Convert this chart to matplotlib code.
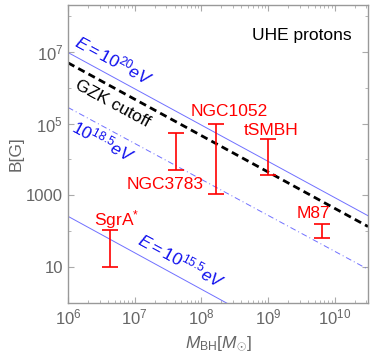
import numpy as np
import matplotlib
matplotlib.use("Agg")
import matplotlib.pyplot as plt
from matplotlib.ticker import LogLocator, FixedLocator, FixedFormatter, NullFormatter

plt.rcParams['font.family'] = ['Liberation Sans', 'DejaVu Sans']
plt.rcParams['mathtext.fontset'] = 'custom'
plt.rcParams['mathtext.rm'] = 'Liberation Sans'
plt.rcParams['mathtext.it'] = 'Liberation Sans:italic'
plt.rcParams['mathtext.bf'] = 'Liberation Sans:bold'

# Hillas lines, read at the left and right edge of the frame
line_M = [1e6, 10**10.5]
B_E20 = [9.5e6, 2.7e2]
B_GZK = [4.9e6, 1.35e2]
B_E185 = [2.8e5, 8.7]
B_E155 = [2.6e2, 7e-3]

# sources: mass, B range
src_names = ['SgrA$^{*}$', 'NGC3783', 'NGC1052', 'tSMBH', 'M87']
src_M = [4.2e6, 4.2e7, 1.66e8, 1.0e9, 6.5e9]
src_Blo = [10, 5.0e3, 1.1e3, 3.6e3, 65]
src_Bhi = [105, 5.3e4, 9.8e4, 3.6e4, 160]
# label positions (M, B)
lab_M = [5.3e6, 2.9e7, 2.6e8, 1.1e9, 4.8e9]
lab_B = [215, 2.0e3, 2.1e5, 6.2e4, 316]

gray = '#666666'
tickgray = '#aaaaaa'
lblue = '#7070ff'
dblue = '#1010ee'

fig = plt.figure(figsize=(3.74, 3.55), dpi=100)
ax = fig.add_axes([68/374, 1-303/355, 300/374, 298/355])

ax.plot(line_M, B_E20, color=lblue, lw=0.7)
ax.plot(line_M, B_E185, color=lblue, lw=0.7, ls=(0, (6, 3, 1, 3)))
ax.plot(line_M, B_E155, color=lblue, lw=0.7)
ax.plot(line_M, B_GZK, color='black', lw=2, ls=(0, (2.6, 1.6)))

for m, lo, hi in zip(src_M, src_Blo, src_Bhi):
    mid = np.sqrt(lo*hi)
    ax.errorbar([m], [mid], yerr=[[mid-lo], [hi-mid]],
                fmt='none', ecolor='red', elinewidth=1.2, capsize=6, capthick=1.2)
for name, m, b in zip(src_names, lab_M, lab_B):
    ax.text(m, b, name, color='red', fontsize=12.5, ha='center', va='center')

ax.set_xscale('log')
ax.set_yscale('log')
ax.set_xlim(1e6, 10**10.5)
ax.set_ylim(1, 2e8)

ang = -28.4
ax.text(4.9e6, 6.0e6, r'$\mathit{E{=}10^{20}eV}$', color=dblue, fontsize=12.5,
        rotation=ang, ha='center', va='center', rotation_mode='anchor')
ax.text(4.6e6, 3.6e5, 'GZK cutoff', color='black', fontsize=12.5,
        rotation=ang, ha='center', va='center', rotation_mode='anchor')
ax.text(3.4e6, 3.2e4, r'$\mathit{10^{18.5}eV}$', color=dblue, fontsize=12.5,
        rotation=ang, ha='center', va='center', rotation_mode='anchor')
ax.text(5.0e7, 15.5, r'$\mathit{E{=}10^{15.5}eV}$', color=dblue, fontsize=12.5,
        rotation=ang, ha='center', va='center', rotation_mode='anchor')
ax.text(0.947, 0.899, 'UHE protons', transform=ax.transAxes, fontsize=12.5,
        ha='right', va='center', color='black')

ax.xaxis.set_major_locator(FixedLocator([1e6, 1e7, 1e8, 1e9, 1e10]))
ax.xaxis.set_major_formatter(FixedFormatter([r'$10^{6}$', r'$10^{7}$', r'$10^{8}$',
                                             r'$10^{9}$', r'$10^{10}$']))
ax.xaxis.set_minor_locator(LogLocator(base=10, subs=np.arange(2, 10), numticks=20))
ax.xaxis.set_minor_formatter(NullFormatter())
ax.yaxis.set_major_locator(FixedLocator([10, 1e3, 1e5, 1e7]))
ax.yaxis.set_major_formatter(FixedFormatter(['10', '1000', r'$10^{5}$', r'$10^{7}$']))
ax.yaxis.set_minor_locator(FixedLocator([1, 100, 1e4, 1e6, 1e8]))
ax.yaxis.set_minor_formatter(NullFormatter())

ax.tick_params(which='both', direction='in', top=True, right=True, color=tickgray,
               labelsize=12, labelcolor=gray)
ax.tick_params(which='major', length=4, width=0.8)
ax.tick_params(which='minor', length=2.2, width=0.6)
for s in ax.spines.values():
    s.set_color('#999999')
    s.set_linewidth(1.0)

ax.set_xlabel(r'$M_{\mathrm{BH}}[M_{\odot}]$', color=gray, fontsize=12.5, labelpad=5)
ax.set_ylabel('B[G]', color=gray, fontsize=12.5, labelpad=2)

fig.savefig('out.png', dpi=100)
